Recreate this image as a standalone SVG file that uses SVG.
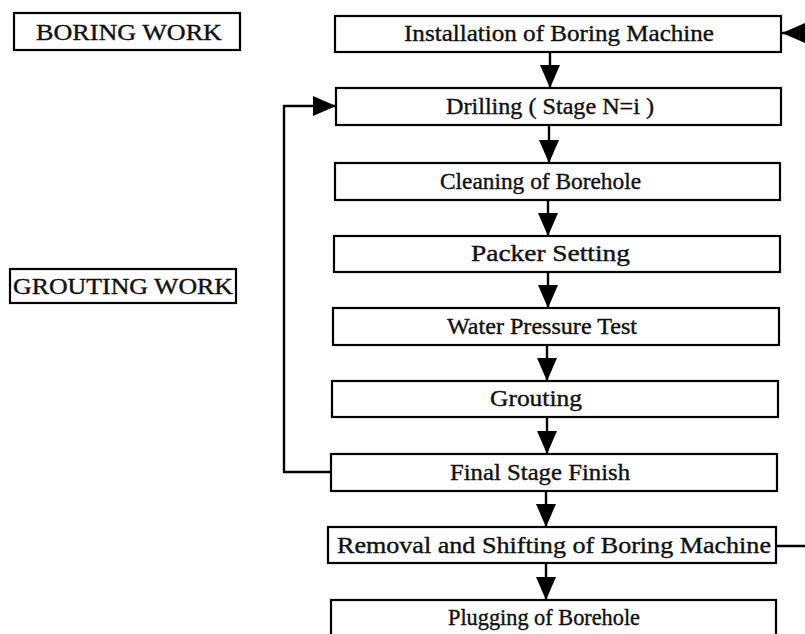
<svg xmlns="http://www.w3.org/2000/svg" width="805" height="634" viewBox="0 0 805 634">
<defs>
<marker id="ah" markerUnits="userSpaceOnUse" markerWidth="24" markerHeight="22" viewBox="0 0 24 22" refX="23" refY="11" orient="auto">
<path d="M0,1 L23,11 L0,21 Z" fill="#000"/>
</marker>
</defs>
<style>
.box{fill:#fff;stroke:#000;stroke-width:2.2}
.t{font-family:"Liberation Serif","Times New Roman",Times,serif;font-size:24px;fill:#111;stroke:#111;stroke-width:0.4}
.c{fill:none;stroke:#000;stroke-width:2.4}
</style>
<rect width="805" height="634" fill="#fff"/>
<g id="boring-work"><rect class="box" x="14" y="13" width="226" height="37"/><text class="t" x="36" y="40" textLength="186" lengthAdjust="spacingAndGlyphs">BORING WORK</text></g>
<g id="grouting-work"><rect class="box" x="10" y="269" width="226" height="34"/><text class="t" x="13" y="294" textLength="220" lengthAdjust="spacingAndGlyphs">GROUTING WORK</text></g>
<g id="n1"><rect class="box" x="335" y="16" width="446" height="36"/><text class="t" x="404" y="41" textLength="310" lengthAdjust="spacingAndGlyphs">Installation of Boring Machine</text></g>
<g id="n2"><rect class="box" x="336" y="88" width="445" height="37"/><text class="t" x="446" y="114" textLength="208" lengthAdjust="spacingAndGlyphs">Drilling  ( Stage N=i )</text></g>
<g id="n3"><rect class="box" x="335" y="163" width="445" height="37"/><text class="t" x="440" y="189" textLength="201" lengthAdjust="spacingAndGlyphs">Cleaning of Borehole</text></g>
<g id="n4"><rect class="box" x="334" y="236" width="446" height="36"/><text class="t" x="471" y="261" textLength="159" lengthAdjust="spacingAndGlyphs">Packer  Setting</text></g>
<g id="n5"><rect class="box" x="333" y="308" width="446" height="37"/><text class="t" x="447" y="334" textLength="190" lengthAdjust="spacingAndGlyphs">Water Pressure Test</text></g>
<g id="n6"><rect class="box" x="332" y="381" width="446" height="36"/><text class="t" x="490" y="406" textLength="92" lengthAdjust="spacingAndGlyphs">Grouting</text></g>
<g id="n7"><rect class="box" x="331" y="454" width="446" height="37"/><text class="t" x="450" y="480" textLength="180" lengthAdjust="spacingAndGlyphs">Final Stage Finish</text></g>
<g id="n8"><rect class="box" x="328" y="527" width="448" height="36"/><text class="t" x="337" y="553" textLength="434" lengthAdjust="spacingAndGlyphs">Removal and Shifting of Boring Machine</text></g>
<g id="n9"><rect class="box" x="331" y="600" width="445" height="40"/><text class="t" x="448" y="625" textLength="192" lengthAdjust="spacingAndGlyphs">Plugging of Borehole</text></g>
<g id="connectors">
<line class="c" x1="550" y1="52" x2="550" y2="88" marker-end="url(#ah)"/>
<line class="c" x1="549" y1="125" x2="549" y2="163" marker-end="url(#ah)"/>
<line class="c" x1="548" y1="200" x2="548" y2="236" marker-end="url(#ah)"/>
<line class="c" x1="548" y1="272" x2="548" y2="308" marker-end="url(#ah)"/>
<line class="c" x1="547" y1="345" x2="547" y2="381" marker-end="url(#ah)"/>
<line class="c" x1="547" y1="417" x2="547" y2="454" marker-end="url(#ah)"/>
<line class="c" x1="546" y1="491" x2="546" y2="527" marker-end="url(#ah)"/>
<line class="c" x1="546" y1="563" x2="546" y2="600" marker-end="url(#ah)"/>
<path class="c" d="M331,472 H284 V106 H336" marker-end="url(#ah)"/>
<path class="c" d="M776,546 H830 V33 H782" marker-end="url(#ah)"/>
</g>
</svg>
